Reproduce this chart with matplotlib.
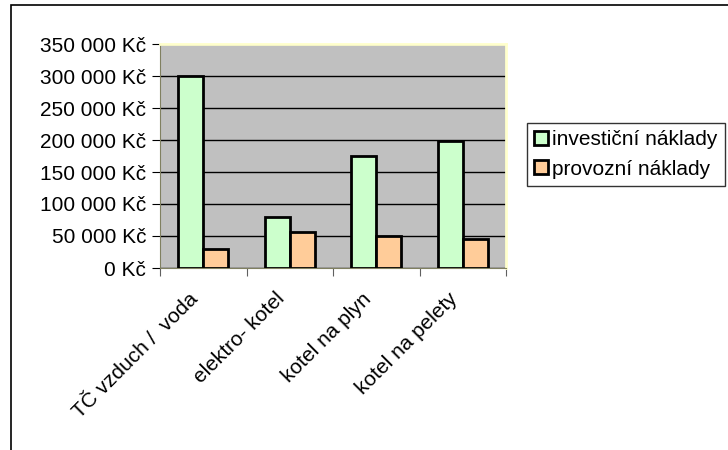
import matplotlib.pyplot as plt
import matplotlib.transforms as mtransforms
import numpy as np
from matplotlib.patches import Rectangle

plt.rcParams['font.family'] = ['Liberation Sans', 'DejaVu Sans']

# data
categories = ["TČ vzduch /  voda", "elektro- kotel", "kotel na plyn", "kotel na pelety"]
investicni = [300000, 80000, 175000, 198000]
provozni = [30000, 57000, 50000, 45000]
series_names = ["investiční náklady", "provozní náklady"]
yticks = [0, 50000, 100000, 150000, 200000, 250000, 300000, 350000]

fig = plt.figure(figsize=(7.28, 4.5), dpi=100)

# outer chart frame
fig.patches.append(Rectangle((11 / 728, -0.02), 1.0, 1 - 5 / 450 + 0.02,
                             transform=fig.transFigure, fill=False,
                             edgecolor='black', lw=1.2))

ax = fig.add_axes([160 / 728, 1 - 268 / 450, 346 / 728, 224 / 450])
ax.set_facecolor('#C0C0C0')

x = np.arange(len(categories))
w = 0.29
ax.bar(x - w / 2, investicni, w, color='#CCFFCC', edgecolor='black', lw=2,
       label=series_names[0], zorder=3)
ax.bar(x + w / 2, provozni, w, color='#FFCC99', edgecolor='black', lw=2,
       label=series_names[1], zorder=3)

ax.set_xlim(-0.5, len(categories) - 0.5)
ax.set_ylim(0, 350000)
ax.set_yticks(yticks)
ax.set_yticklabels([("%d" % v if v < 1000 else "%d %03d" % (v // 1000, v % 1000)) + " Kč"
                    for v in yticks], fontsize=15)
ax.yaxis.grid(True, color='black', lw=1, zorder=1)

ax.set_xticks(np.arange(-0.5, len(categories), 1.0))
ax.set_xticklabels([])
ax.set_xticks(x, minor=True)
ax.set_xticklabels(categories, minor=True, rotation=45, ha='right', va='center',
                   rotation_mode='anchor', fontsize=15)
ax.tick_params(axis='x', which='minor', length=0, pad=20)
ax.tick_params(axis='x', which='major', length=6, direction='out', color='#606060')
ax.tick_params(axis='y', length=6, direction='out', pad=4, color='black')
shift = mtransforms.ScaledTranslation(-8 / 100, 0, fig.dpi_scale_trans)
for lbl in ax.get_xticklabels(minor=True):
    lbl.set_transform(lbl.get_transform() + shift)

for s in ['top', 'right']:
    ax.spines[s].set_color('#FFFFCC')
    ax.spines[s].set_linewidth(2)
ax.spines['left'].set_color('#808060')
ax.spines['bottom'].set_color('#808060')

fig.legend(loc='upper left', bbox_to_anchor=(527 / 728, 1 - 123 / 450),
           fontsize=15, frameon=True, fancybox=False, edgecolor='black',
           handlelength=0.65, handleheight=0.65, handletextpad=0.2,
           borderpad=0.35, labelspacing=0.5, borderaxespad=0)

fig.savefig('out.png', dpi=100)
